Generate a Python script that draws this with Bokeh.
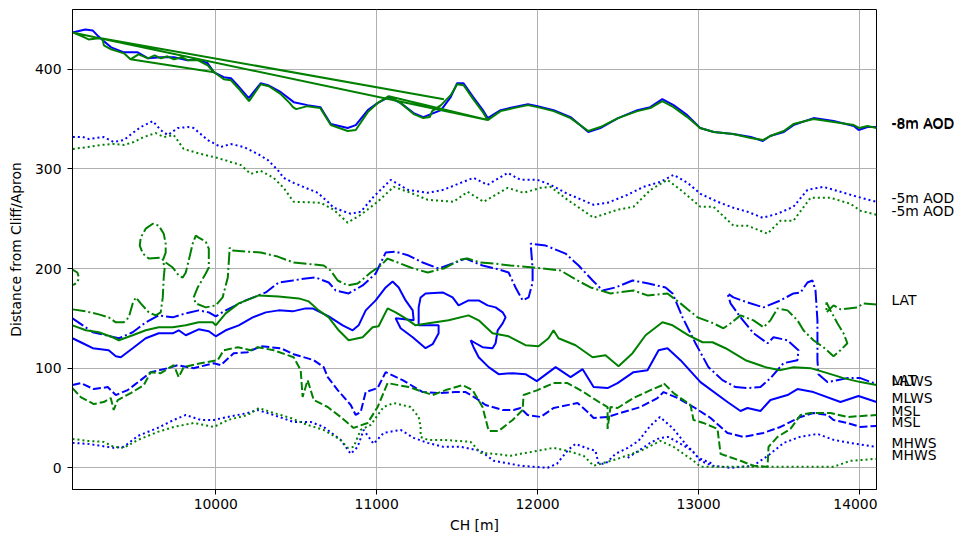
import numpy as np
from bokeh.plotting import figure
from bokeh.layouts import row
from bokeh.core.properties import value
from bokeh.models import Range1d, FixedTicker, NumeralTickFormatter, ColumnDataSource
from bokeh.embed import file_html
from bokeh.resources import INLINE

nan = float("nan")

# ---------------- data (chainage CH [m], distance from cliff/apron [m]) ----------------
# Survey A (blue)
b8_x = [9110, 9190, 9235, 9265, 9300, 9350, 9430, 9515, 9580, 9660, 9740, 9825, 9890, 9950, 9990, 10050, 10095, 10135, 10205, 10280, 10325, 10405, 10485, 10570, 10650, 10715, 10820, 10870, 10945, 11005, 11075, 11150, 11230, 11290, 11400, 11460, 11500, 11540, 11600, 11660, 11690, 11770, 11850, 11940, 12000, 12100, 12205, 12315, 12390, 12500, 12620, 12700, 12775, 12845, 12930, 13010, 13095, 13215, 13325, 13400, 13445, 13530, 13590, 13715, 13840, 13965, 13995, 14050, 14106]
b8_y = [437, 440, 439, 434, 429, 422, 417, 417, 411, 412, 412, 409, 410, 406, 397, 392, 391, 384, 371, 386, 384, 377, 367, 364, 362, 345, 341, 344, 359, 366, 372, 366, 356, 352, 359, 372, 386, 386, 372, 359, 351, 359, 362, 365, 363, 359, 352, 337, 341, 351, 359, 362, 370, 364, 354, 341, 337, 335, 332, 328, 333, 337, 344, 351, 348, 343, 339, 342, 342]

b5_x = [9112, 9174, 9211, 9304, 9366, 9429, 9484, 9534, 9609, 9658, 9702, 9764, 9826, 9863, 9950, 10031, 10093, 10174, 10261, 10323, 10385, 10422, 10484, 10634, 10696, 10733, 10839, 10901, 10981, 11087, 11193, 11317, 11416, 11522, 11602, 11689, 11814, 11894, 12000, 12081, 12186, 12348, 12435, 12559, 12658, 12764, 12845, 12932, 13012, 13118, 13217, 13304, 13398, 13491, 13590, 13677, 13776, 13882, 13988, 14106]
b5_y = [332, 332, 330, 332, 327, 329, 336, 342, 348, 339, 334, 341, 342, 341, 329, 322, 325, 322, 315, 309, 299, 291, 286, 276, 267, 261, 255, 257, 272, 289, 279, 276, 279, 286, 291, 284, 296, 289, 289, 284, 275, 264, 266, 274, 282, 287, 294, 286, 275, 267, 261, 257, 251, 255, 262, 279, 282, 277, 272, 267]

bL_x = [9110, 9174, 9236, 9317, 9398, 9484, 9565, 9646, 9733, 9814, 9894, 9957, 10000, 10062, 10186, 10311, 10391, 10478, 10559, 10621, 10702, 10745, 10826, 10913, 10994, 11056, 11118, 11199, 11286, 11385, 11472, 11553, 11658, 11739, 11820, 11863, 11907, 11944, 11969, 11969, 11957, 12050, 12174, 12255, 12342, 12404, 12484, 12590, 12689, 12795, 12839, 12901, 12981, 13062, 13149, 13230, 13311, 13385, 13447, 13528, 13615, 13621, 13553, 13466, 13429, 13342, 13261, 13199, 13180, 13217, 13304, 13404, 13509, 13590, 13634, 13677, 13708, 13727, 13739, 13739, 13745, 13801, 13925, 14006, 14106]
bL_y = [150, 143, 136, 133, 130, 136, 146, 153, 151, 155, 158, 156, 152, 158, 168, 176, 186, 188, 190, 191, 186, 178, 175, 183, 195, 216, 217, 213, 206, 200, 205, 210, 203, 200, 196, 181, 168, 171, 186, 200, 225, 223, 215, 203, 188, 178, 181, 188, 185, 181, 175, 151, 125, 101, 88, 81, 80, 81, 90, 105, 108, 118, 128, 131, 125, 135, 151, 165, 175, 171, 166, 161, 168, 175, 176, 186, 188, 178, 148, 108, 94, 86, 90, 90, 84]

bW_x = [9110, 9174, 9236, 9335, 9379, 9410, 9484, 9565, 9646, 9733, 9770, 9814, 9894, 9957, 10000, 10062, 10143, 10230, 10311, 10391, 10478, 10559, 10602, 10702, 10789, 10851, 10888, 10932, 10994, 11056, 11099, 11137, 11180, 11224, 11230, 11118, 11149, 11224, 11304, 11348, 11385, 11385, 11261, 11261, 11273, 11304, 11410, 11472, 11509, 11571, 11634, 11689, 11739, 11783, 11801, 11783, 11752, 11739, 11720, 11658, 11615, 11584, 11602, 11634, 11696, 11758, 11845, 11925, 11995, 12112, 12205, 12280, 12348, 12435, 12497, 12596, 12683, 12752, 12807, 12888, 13012, 13180, 13261, 13304, 13385, 13447, 13553, 13615, 13714, 13882, 13994, 14106]
bW_y = [130, 125, 120, 118, 112, 111, 120, 130, 135, 135, 138, 133, 139, 137, 132, 138, 143, 151, 156, 158, 157, 160, 160, 152, 143, 138, 143, 158, 168, 181, 187, 181, 168, 158, 148, 150, 140, 131, 120, 124, 135, 143, 143, 161, 171, 175, 176, 171, 163, 168, 168, 163, 161, 156, 151, 145, 138, 125, 120, 121, 125, 128, 121, 111, 101, 94, 95, 94, 87, 101, 91, 99, 81, 80, 85, 96, 98, 118, 120, 108, 86, 66, 57, 60, 57, 68, 73, 79, 76, 66, 72, 66]

bS_x = [9110, 9161, 9242, 9329, 9379, 9453, 9534, 9596, 9702, 9764, 9863, 9988, 10031, 10112, 10199, 10280, 10404, 10484, 10609, 10671, 10696, 10758, 10839, 10870, 10901, 10932, 11006, 11056, 11161, 11286, 11385, 11491, 11553, 11615, 11677, 11783, 11851, 11894, 11938, 12019, 12099, 12248, 12311, 12348, 12435, 12534, 12640, 12745, 12783, 12870, 12969, 13075, 13180, 13280, 13404, 13509, 13634, 13714, 13801, 13839, 13925, 14006, 14106]
bS_y = [83, 85, 79, 81, 73, 78, 88, 96, 100, 103, 100, 105, 103, 115, 116, 122, 120, 114, 108, 101, 91, 78, 63, 53, 56, 76, 80, 96, 88, 76, 75, 76, 76, 70, 63, 58, 58, 60, 53, 51, 60, 65, 56, 50, 51, 56, 61, 70, 76, 70, 61, 50, 35, 31, 35, 41, 51, 55, 53, 48, 45, 41, 42]

bH_x = [9110, 9205, 9286, 9366, 9429, 9516, 9640, 9739, 9814, 9907, 9988, 10075, 10199, 10261, 10360, 10484, 10590, 10671, 10776, 10839, 10882, 10919, 10981, 11043, 11149, 11230, 11317, 11416, 11522, 11646, 11727, 11832, 11894, 12062, 12120, 12190, 12236, 12300, 12360, 12379, 12422, 12484, 12560, 12627, 12700, 12760, 12839, 12919, 13000, 13087, nan, 12560, 12627, 12700, 12760, 12810, 12857, 12963, 13012, 13087, 13200, 13340, 13430, 13530, 13630, 13740, 13840, 13940, 14106]
bH_y = [25, 24, 22, 20, 21, 32, 40, 48, 53, 48, 48, 51, 55, 58, 53, 46, 46, 41, 28, 14, 21, 38, 24, 35, 38, 30, 25, 21, 21, 17, 7, 4, 2, 0, 4, 18, 24, 20, 17, 4, 4, 14, 20, 27, 42, 51, 40, 24, 10, 4, nan, 10, 17, 25, 30, 31, 27, 17, 7, 2, 0, 2, 12, 25, 31, 34, 28, 25, 21]

# Survey B (green)
g8_x = [9110, 11690, nan, 9296, 11418, nan, 9470, 9990, nan, 11075, 11690, nan,
        9110, 9170, 9210, 9260, 9296, 9305, 9350, 9430, 9470, 9520, 9580, 9620, 9660, 9700, 9740, 9790, 9830, 9890, 9950, 9990, 10050, 10095, 10140, 10207, 10280, 10330, 10405, 10460, 10480, 10500, 10570, 10650, 10715, 10820, 10870, 10945, 11005, 11075, 11150, 11230, 11290, 11330, 11345, 11400, 11460, 11500, 11540, 11600, 11660, 11690, 11770, 11850, 11940, 12000, 12100, 12205, 12315, 12390, 12500, 12620, 12700, 12775, 12845, 12930, 13010, 13095, 13215, 13325, 13400, 13445, 13530, 13590, 13715, 13840, 13965, 14000, 14050, 14106]
g8_y = [437, 349, nan, 431, 370, nan, 410, 397, nan, 373, 349, nan,
        437, 433, 430, 431, 431, 424, 420, 416, 410, 415, 411, 414, 411, 413, 410, 412, 409, 409, 404, 397, 390, 389, 381, 368, 385, 383, 375, 366, 362, 360, 363, 361, 344, 338, 339, 357, 366, 373, 366, 355, 351, 352, 358, 364, 374, 385, 384, 370, 357, 349, 358, 361, 364, 362, 358, 351, 338, 342, 351, 358, 361, 368, 362, 352, 341, 337, 335, 331, 329, 333, 338, 345, 350, 347, 344, 341, 343, 341]

g5_x = [9112, 9205, 9286, 9366, 9429, 9491, 9553, 9627, 9677, 9739, 9801, 9907, 10012, 10093, 10155, 10217, 10280, 10360, 10422, 10484, 10652, 10733, 10820, 10901, 11006, 11106, 11211, 11317, 11478, 11565, 11665, 11814, 11913, 12019, 12081, 12186, 12348, 12497, 12596, 12702, 12807, 12888, 13012, 13093, 13217, 13304, 13429, 13509, 13590, 13696, 13820, 13944, 14006, 14106]
g5_y = [320, 322, 324, 325, 324, 327, 332, 336, 332, 334, 320, 315, 311, 307, 304, 295, 298, 291, 281, 267, 266, 259, 246, 254, 267, 282, 276, 269, 267, 277, 267, 281, 276, 281, 282, 269, 251, 259, 262, 279, 289, 279, 262, 262, 243, 243, 235, 248, 248, 271, 271, 265, 258, 254]

gL_x = [9090, 9110, 9140, 9150, 9140, 9120, 9095, nan,
        9110, 9193, 9273, 9335, 9379, 9429, 9460, 9484, 9503, 9534, 9584, 9627, 9658, 9671, 9677, 9683, 9671, 9689, 9689, 9677, 9646, 9609, 9565, 9534, 9528, 9547, 9584, 9658, 9689, 9733, 9770, 9795, 9814, 9832, 9857, 9876, 9894, 9938, 9957, 9957, 9938, 9888, 9863, 9876, 9938, 10000, 10043, 10075, 10087, 10106, 10280, 10385, 10484, 10671, 10714, 10758, 10820, 10882, 10963, 11025, 11068, 11211, 11317, 11416, 11522, 11565, 11646, 11727, 11832, 11975, 12143, 12248, 12329, 12453, 12596, 12683, 12807, 12888, 12994, 13093, 13155, 13199, 13261, 13342, 13404, 13447, 13491, 13553, 13615, 13652, 13714, 13776, 13839, 13882, 13925, 13901, 13863, 13820, 13795, 13795, 13839, 13882, 13988, 14025, 14106]
gL_y = [199, 199, 196, 191, 186, 184, 183, nan,
        159, 157, 154, 151, 146, 146, 151, 165, 171, 165, 156, 153, 156, 171, 191, 201, 208, 216, 225, 235, 243, 245, 240, 231, 223, 215, 210, 211, 206, 201, 193, 191, 196, 208, 225, 233, 231, 227, 220, 201, 195, 181, 171, 165, 161, 163, 171, 191, 221, 218, 216, 212, 206, 203, 198, 188, 183, 185, 196, 203, 210, 201, 196, 200, 209, 210, 206, 205, 203, 201, 198, 188, 181, 175, 178, 173, 175, 165, 151, 145, 140, 145, 153, 148, 141, 148, 160, 158, 148, 138, 128, 121, 112, 118, 125, 135, 145, 158, 166, 156, 163, 159, 161, 165, 164]

gW_x = [9110, 9193, 9273, 9360, 9398, 9484, 9565, 9646, 9733, 9814, 9894, 9981, 10000, 10062, 10143, 10267, 10391, 10516, 10578, 10640, 10702, 10764, 10826, 10913, 10975, 11012, 11068, 11118, 11180, 11242, 11323, 11447, 11571, 11634, 11720, 11820, 11925, 12006, 12068, 12099, 12130, 12236, 12342, 12422, 12503, 12590, 12671, 12776, 12839, 12938, 13025, 13087, 13168, 13292, 13416, 13509, 13590, 13696, 13801, 13901, 14006, 14106]
gW_y = [143, 138, 136, 131, 128, 133, 138, 141, 141, 143, 146, 146, 143, 155, 165, 173, 172, 170, 167, 158, 151, 138, 128, 131, 141, 142, 160, 156, 150, 143, 145, 148, 153, 148, 135, 132, 123, 122, 130, 138, 130, 123, 111, 113, 102, 115, 133, 146, 143, 133, 126, 126, 120, 108, 101, 98, 101, 100, 95, 90, 86, 83]

gS_x = [9110, 9161, 9242, 9304, 9348, 9366, 9391, 9472, 9553, 9596, 9658, 9739, 9770, 9801, 9907, 10012, 10050, 10137, 10217, 10261, 10360, 10484, 10528, 10540, 10571, 10609, 10696, 10776, 10857, 10944, 11006, 11068, 11199, 11348, 11429, 11534, 11596, 11658, 11696, 11758, 11845, 11907, 11913, 12000, 12099, 12186, 12286, 12391, 12435, 12435, 12453, 12497, 12596, 12702, 12776, 12783, 12845, 12950, 12969, 13031, 13118, 13137, 13261, 13342, 13429, 13435, 13491, 13571, 13634, 13696, 13758, 13820, 13925, 14106]
gS_y = [80, 71, 64, 66, 70, 58, 68, 75, 83, 96, 95, 103, 91, 101, 105, 108, 118, 121, 118, 121, 118, 111, 98, 71, 88, 68, 61, 51, 40, 45, 61, 85, 81, 73, 78, 83, 78, 61, 37, 37, 48, 58, 73, 78, 85, 85, 76, 65, 61, 39, 61, 60, 70, 78, 83, 85, 75, 63, 48, 45, 39, 14, 7, 2, 1, 21, 31, 39, 53, 55, 55, 55, 51, 53]

gH_x = [9110, 9205, 9304, 9366, 9429, 9516, 9640, 9739, 9863, 9988, 10075, 10199, 10267, 10360, 10466, 10571, 10671, 10776, 10820, 10857, 10901, 10963, 11043, 11106, 11211, 11261, 11273, 11273, 11317, 11416, 11584, 11646, 11727, 11832, 11894, 12000, 12099, 12186, 12286, 12348, 12497, 12640, 12764, 12845, 12969, 13012, 13217, 13500, 13839, 13944, 14106]
gH_y = [29, 27, 26, 21, 20, 28, 36, 41, 45, 41, 48, 53, 60, 55, 50, 43, 38, 28, 20, 21, 38, 43, 61, 65, 61, 51, 41, 31, 28, 28, 26, 15, 14, 12, 14, 17, 20, 17, 12, 2, 9, 17, 27, 21, 7, 1, 1, 1, 1, 7, 9]

levels = ["-8m AOD", "-5m AOD", "LAT", "MLWS", "MSL", "MHWS"]
x_ticks = [10000, 11000, 12000, 13000, 14000]
y_ticks = [0, 100, 200, 300, 400]

blue_series = [(b8_x, b8_y), (b5_x, b5_y), (bL_x, bL_y), (bW_x, bW_y), (bS_x, bS_y), (bH_x, bH_y)]
green_series = [(g8_x, g8_y), (g5_x, g5_y), (gL_x, gL_y), (gW_x, gW_y), (gS_x, gS_y), (gH_x, gH_y)]

# ---------------- styles ----------------
dash_for_level = ["solid", "2 3", "13 3 2 3", "solid", "8 3", "2 3"]
FONT = "DejaVu Sans"
FS = "13.9px"

p = figure(width=877, height=535, output_backend="svg", toolbar_location=None,
           x_range=Range1d(9110, 14106), y_range=Range1d(-21.8, 460),
           min_border_left=72, min_border_right=1, min_border_top=9, min_border_bottom=46)
p.background_fill_color = "white"
p.border_fill_color = "white"
p.outline_line_color = "black"
p.outline_line_width = 1

p.xaxis.ticker = FixedTicker(ticks=x_ticks)
p.yaxis.ticker = FixedTicker(ticks=y_ticks)
p.xaxis.formatter = NumeralTickFormatter(format="0")
p.yaxis.formatter = NumeralTickFormatter(format="0")
for ax in (p.xaxis[0], p.yaxis[0]):
    ax.major_tick_out = 5
    ax.major_tick_in = 0
    ax.minor_tick_out = 0
    ax.minor_tick_in = 0
    ax.major_tick_line_color = "black"
    ax.axis_line_color = "black"
    ax.major_label_text_font = FONT
    ax.major_label_text_font_size = FS
    ax.major_label_text_color = "black"
    ax.axis_label_text_font = FONT
    ax.axis_label_text_font_size = FS
    ax.axis_label_text_font_style = "normal"
    ax.axis_label_text_color = "black"
p.xaxis.axis_label = "CH [m]"
p.yaxis.axis_label = "Distance from Cliff/Apron"
p.xaxis.major_label_standoff = 4
p.xaxis.axis_label_standoff = 5
p.yaxis.major_label_standoff = 6
p.yaxis.axis_label_standoff = 8

p.xgrid.ticker = FixedTicker(ticks=x_ticks)
p.ygrid.ticker = FixedTicker(ticks=y_ticks)
for g in (p.xgrid[0], p.ygrid[0]):
    g.grid_line_color = "#b0b0b0"
    g.grid_line_width = 1

for color, series in (("blue", blue_series), ("green", green_series)):
    for (xs, ys), dash in zip(series, dash_for_level):
        src = ColumnDataSource(dict(x=np.array(xs, dtype=float), y=np.array(ys, dtype=float)))
        p.line("x", "y", source=src, line_color=color, line_width=2, line_dash=dash)

# ---------------- end-of-line labels, in a narrow panel sharing the y scale ----------------
lab = figure(width=82, height=535, output_backend="svg", toolbar_location=None,
             x_range=Range1d(0, 82), y_range=p.y_range,
             x_axis_location=None, y_axis_location=None,
             min_border_left=0, min_border_right=0, min_border_top=9, min_border_bottom=46)
lab.outline_line_color = None
lab.grid.visible = False
lab.background_fill_color = "white"
lab.border_fill_color = "white"

lab_y = [ys[-1] for series in (blue_series, green_series) for (xs, ys) in series]
lab_t = levels + levels
lab.text(x=[14] * len(lab_t), y=lab_y, text=lab_t, text_font=value(FONT), text_font_size=value(FS),
         text_color="black", text_align="left", text_baseline="alphabetic", y_offset=-4)

layout = row(p, lab, spacing=0)
open("out.html", "w").write(file_html(layout, INLINE))
